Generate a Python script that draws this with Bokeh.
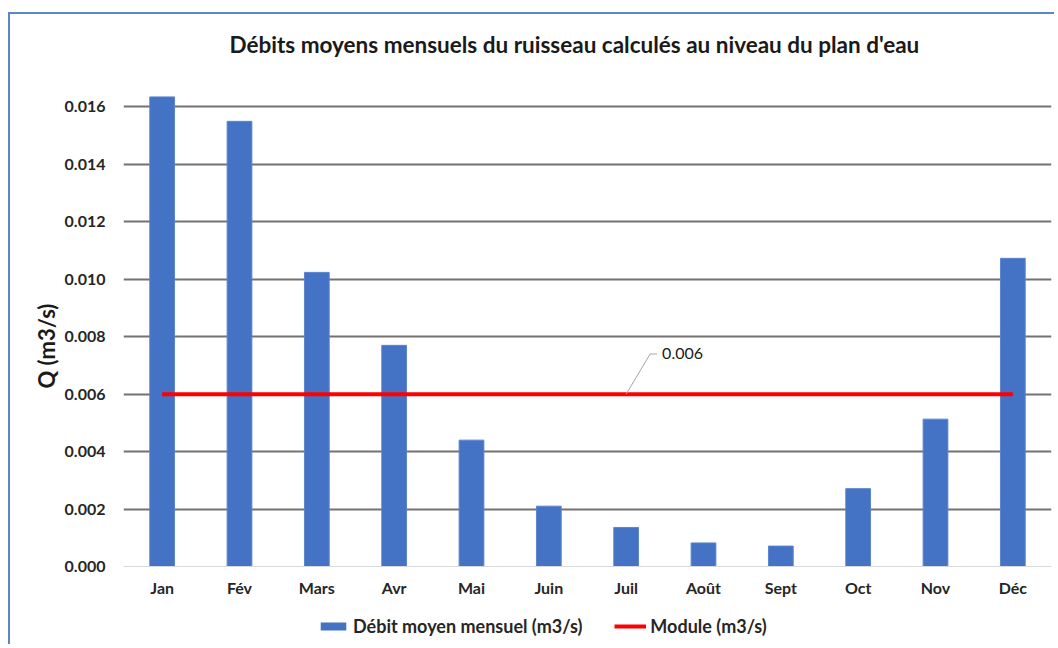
from bokeh.plotting import figure
from bokeh.models import Legend, LegendItem, Label, NumeralTickFormatter, FixedTicker, Range1d, Title
from bokeh.layouts import column
from bokeh.embed import file_html
from bokeh.resources import INLINE

months = ["Jan", "Fév", "Mars", "Avr", "Mai", "Juin", "Juil", "Août", "Sept", "Oct", "Nov", "Déc"]
debit = [0.01635, 0.0155, 0.01024, 0.0077, 0.0044, 0.0021, 0.00136, 0.00082, 0.00071, 0.00271, 0.00513, 0.01073]
module = 0.006
y_ticks = [0.000, 0.002, 0.004, 0.006, 0.008, 0.010, 0.012, 0.014, 0.016]

FONT = "Lato"
BAR_COLOR = "#4472c4"
LINE_COLOR = "#ff0000"
idx = list(range(len(months)))

W = 1044
p = figure(width=W, height=596, output_backend="svg", toolbar_location=None,
           x_range=Range1d(-0.5, len(months) - 0.5), y_range=Range1d(0, 0.01727),
           min_border_left=113, min_border_right=3, min_border_top=56, min_border_bottom=44)
p.outline_line_color = None
p.background_fill_color = "white"
p.border_fill_color = "white"

p.title.text = "Débits moyens mensuels du ruisseau calculés au niveau du plan d'eau"
p.title.align = "left"
p.title.text_font = FONT
p.title.text_font_size = "22.5px"
p.title.text_font_style = "bold"
p.title.text_color = "#1a1a1a"
p.title.offset = 106
p.title.standoff = 26

p.vbar(x=idx, top=debit, width=0.32, fill_color=BAR_COLOR, line_color="#5a84cc", line_width=1)
p.line(x=[idx[0], idx[-1]], y=[module, module], line_color=LINE_COLOR, line_width=4)

# leader line and label for the module value
anchor = idx[6]
p.line(x=[anchor, anchor + 0.31, anchor + 0.40], y=[module, module + 0.0014, module + 0.0014],
       line_color="#a6a6a6", line_width=1)
p.add_layout(Label(x=anchor + 0.40, y=module + 0.0014, text=f"{module:.3f}", x_offset=5,
                   text_baseline="middle", text_font=FONT, text_font_size="16px",
                   text_color="#1a1a1a"))

# axes
p.xaxis.ticker = FixedTicker(ticks=idx)
p.xaxis.major_label_overrides = {i: m for i, m in enumerate(months)}
p.xaxis.axis_line_color = "#d9d9d9"
p.xaxis.axis_line_width = 1
p.xaxis.major_tick_line_color = None
p.xaxis.minor_tick_line_color = None
p.xaxis.major_label_standoff = 5
p.xaxis.major_label_text_font = FONT
p.xaxis.major_label_text_font_size = "16px"
p.xaxis.major_label_text_font_style = "bold"
p.xaxis.major_label_text_color = "#262626"

p.yaxis.ticker = FixedTicker(ticks=y_ticks)
p.yaxis.formatter = NumeralTickFormatter(format="0.000")
p.yaxis.axis_line_color = None
p.yaxis.major_tick_line_color = None
p.yaxis.minor_tick_line_color = None
p.yaxis.major_label_standoff = 12
p.yaxis.major_label_text_font = FONT
p.yaxis.major_label_text_font_size = "16px"
p.yaxis.major_label_text_font_style = "bold"
p.yaxis.major_label_text_color = "#262626"

# y-axis title, placed along the axis like the original
ytitle = Title(text="Q (m3/s)", align="left", offset=178, standoff=3,
               text_font=FONT, text_font_size="22px", text_font_style="bold",
               text_color="#1a1a1a")
p.add_layout(ytitle, "left")

p.xgrid.grid_line_color = None
p.ygrid.grid_line_color = "#767171"
p.ygrid.grid_line_width = 2

# legend strip below the chart
pl = figure(width=W, height=34, output_backend="svg", toolbar_location=None,
            x_range=Range1d(0, 1), y_range=Range1d(0, 1),
            x_axis_location=None, y_axis_location=None, min_border=0)
pl.outline_line_color = None
pl.grid.grid_line_color = None
pl.background_fill_color = "white"
pl.border_fill_color = "white"
nan = float("nan")
leg_bar = pl.vbar(x=[nan], top=[nan], width=0.5, fill_color=BAR_COLOR, line_color=None)
leg_line = pl.line(x=[nan, nan], y=[nan, nan], line_color=LINE_COLOR, line_width=4)

legend = Legend(items=[LegendItem(label="Débit moyen mensuel (m3/s)", renderers=[leg_bar]),
                       LegendItem(label="Module (m3/s)", renderers=[leg_line])],
                orientation="horizontal", location=(194, 7))
legend.border_line_color = None
legend.background_fill_alpha = 0
legend.label_text_font = FONT
legend.label_text_font_size = "18px"
legend.label_text_font_style = "bold"
legend.label_text_color = "#262626"
legend.glyph_width = 32
legend.glyph_height = 10
legend.label_standoff = 4
legend.spacing = 32
legend.margin = 0
legend.padding = 4
pl.add_layout(legend, "center")

layout = column(p, pl, spacing=0,
                styles={"border-left": "2px solid #5b86cc", "border-top": "2px solid #5b86cc",
                        "margin-left": "8px", "margin-top": "12px"})

open("out.html", "w").write(file_html(layout, INLINE))
